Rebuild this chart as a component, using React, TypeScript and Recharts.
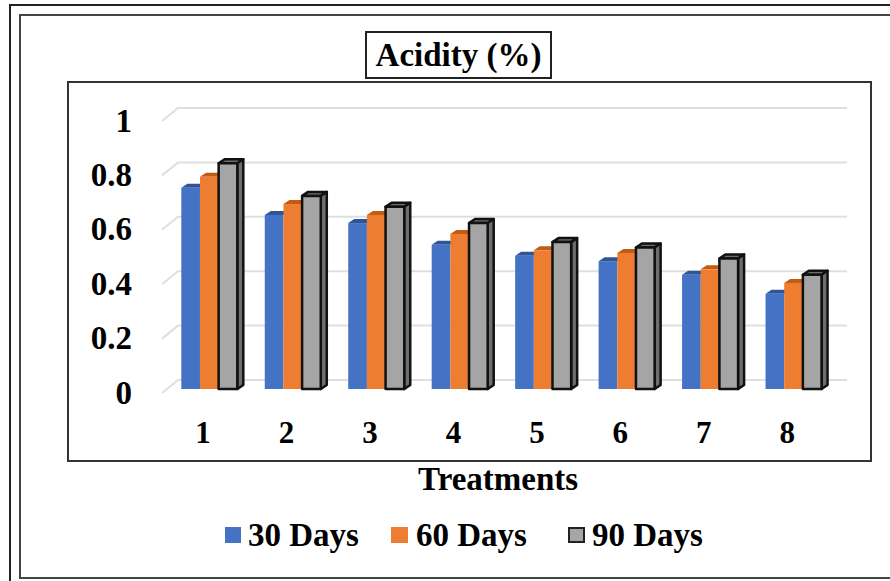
import React from 'react';
import { BarChart, Bar, XAxis, YAxis, CartesianGrid, Legend } from 'recharts';

const categories = ['1', '2', '3', '4', '5', '6', '7', '8'];
const days30 = [0.74, 0.64, 0.61, 0.53, 0.49, 0.47, 0.42, 0.35];
const days60 = [0.78, 0.68, 0.64, 0.57, 0.51, 0.5, 0.44, 0.39];
const days90 = [0.83, 0.71, 0.67, 0.61, 0.54, 0.52, 0.48, 0.42];
const yTicks = [0, 0.2, 0.4, 0.6, 0.8, 1];
const rows = categories.map((c, i) => ({ c, d30: days30[i], d60: days60[i], d90: days90[i] }));

const FONT = '"Liberation Serif", "Times New Roman", serif';
const DX = 6;
const DY = -4;

const flatBar = (fill: string, top: string) => (p: any) => (
  <g>
    <polygon points={`${p.x},${p.y} ${p.x + DX},${p.y + DY} ${p.x + p.width + DX},${p.y + DY} ${p.x + p.width},${p.y}`} fill={top} />
    <rect x={p.x} y={p.y} width={p.width} height={p.height} fill={fill} />
  </g>
);

const outlinedBar = (p: any) => {
  const r = p.x + p.width;
  const b = p.y + p.height;
  const line = { stroke: '#111', strokeWidth: 2.5, strokeLinejoin: 'round' as const };
  return (
    <g>
      <polygon points={`${p.x},${p.y} ${p.x + DX},${p.y + DY} ${r + DX},${p.y + DY} ${r},${p.y}`} fill="#6e6e6e" {...line} />
      <polygon points={`${r},${p.y} ${r + DX},${p.y + DY} ${r + DX},${b + DY} ${r},${b}`} fill="#6e6e6e" {...line} />
      <rect x={p.x} y={p.y} width={p.width} height={p.height} fill="#a5a5a5" {...line} />
    </g>
  );
};

const gridLine = (p: any) => (
  <g key={`g-${p.y1}`} stroke="#dfdfdf" strokeWidth={2} fill="none">
    <polyline points={`162,${p.y1 + 4} 178,${p.y1 - 9} 847,${p.y1 - 9}`} />
  </g>
);

const yTick = (p: any) => (
  <text x={132} y={p.y + 3} dy="0.35em" textAnchor="end" fontFamily={FONT} fontWeight="bold" fontSize={33} fill="#000">
    {p.payload.value}
  </text>
);

const xTick = (p: any) => (
  <text x={p.x - 6} y={432} dy="0.35em" textAnchor="middle" fontFamily={FONT} fontWeight="bold" fontSize={31} fill="#000">
    {p.payload.value}
  </text>
);

const legendItems = [
  { label: '30 Days', color: '#4472c4', x: 225, w: 16, tx: 248, border: 'none' },
  { label: '60 Days', color: '#ed7d31', x: 391, w: 17, tx: 416, border: 'none' },
  { label: '90 Days', color: '#a5a5a5', x: 568, w: 17, tx: 592, border: '2px solid #222' },
];

const legendContent = () => (
  <div style={{ position: 'relative', height: 0, width: 890 }}>
    {legendItems.map((it) => (
      <React.Fragment key={it.label}>
        <div style={{ position: 'absolute', left: it.x, top: 0, width: it.w, height: 16, boxSizing: 'border-box', background: it.color, border: it.border }} />
        <div style={{ position: 'absolute', left: it.tx, top: -11, fontFamily: FONT, fontWeight: 'bold', fontSize: 33, lineHeight: '38px', whiteSpace: 'nowrap', color: '#000' }}>
          {it.label}
        </div>
      </React.Fragment>
    ))}
  </div>
);

const box = (l: number, t: number, r: number, b: number, w = 2, c = '#333'): React.CSSProperties => ({
  position: 'absolute', left: l, top: t, width: r - l, height: b - t, boxSizing: 'border-box', border: `${w}px solid ${c}`,
});

export default function App() {
  return (
    <div style={{ position: 'absolute', left: 0, top: 0, width: 890, height: 581, background: '#fff', overflow: 'hidden' }}>
      <div style={box(9, 4, 900, 600, 2, '#222')} />
      <div style={box(19, 14, 900, 579, 2, '#444')} />
      <div style={box(67, 81, 872, 462, 2, '#333')} />
      <div style={{ ...box(365, 31, 552, 79, 2, '#222'), background: '#fff', textAlign: 'center', fontFamily: FONT, fontWeight: 'bold', fontSize: 33, lineHeight: '44px', color: '#000' }}>
        Acidity (%)
      </div>
      <div style={{ position: 'absolute', left: 0, top: 0 }}>
        <BarChart width={890} height={581} data={rows} barGap={0} barSize={18.67} margin={{ top: 117, right: 55, bottom: 132, left: 107.3 }}>
          <CartesianGrid vertical={false} horizontal={gridLine} />
          <XAxis
            dataKey="c"
            height={60}
            axisLine={false}
            tickLine={false}
            tick={xTick}
            label={{ value: 'Treatments', position: 'insideBottom', dx: -3, offset: -41, fontFamily: FONT, fontWeight: 'bold', fontSize: 33, fill: '#000' }}
          />
          <YAxis width={60} domain={[0, 1]} ticks={yTicks} axisLine={false} tickLine={false} tick={yTick} />
          <Legend content={legendContent} wrapperStyle={{ left: 0, top: 527, width: 890, height: 0 }} />
          <Bar dataKey="d30" name="30 Days" fill="#4472c4" shape={flatBar('#4472c4', '#2f5597')} isAnimationActive={false} />
          <Bar dataKey="d60" name="60 Days" fill="#ed7d31" shape={flatBar('#ed7d31', '#c55a11')} isAnimationActive={false} />
          <Bar dataKey="d90" name="90 Days" fill="#a5a5a5" shape={outlinedBar} isAnimationActive={false} />
        </BarChart>
      </div>
    </div>
  );
}
